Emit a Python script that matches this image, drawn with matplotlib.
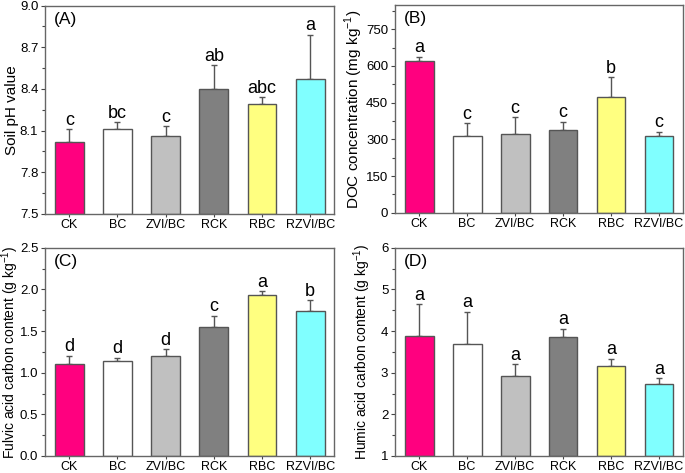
import numpy as np
import matplotlib.pyplot as plt
from matplotlib.ticker import MultipleLocator

plt.rcParams['font.family'] = ['Liberation Sans', 'DejaVu Sans']
plt.rcParams['mathtext.fontset'] = 'custom'
plt.rcParams['mathtext.rm'] = 'Liberation Sans'

groups = ['CK', 'BC', 'ZVI/BC', 'RCK', 'RBC', 'RZVI/BC']
colors = ['#ff007f', '#ffffff', '#c0c0c0', '#808080', '#ffff80', '#80ffff']

# (A) soil pH
ph_mean = [8.02, 8.11, 8.06, 8.40, 8.29, 8.47]
ph_err = [0.09, 0.05, 0.07, 0.17, 0.05, 0.32]
ph_sig = ['c', 'bc', 'c', 'ab', 'abc', 'a']

# (B) DOC
doc_mean = [622, 314, 322, 338, 475, 315]
doc_err = [16, 51, 68, 33, 79, 16]
doc_sig = ['a', 'c', 'c', 'c', 'b', 'c']

# (C) fulvic acid carbon
fa_mean = [1.10, 1.14, 1.20, 1.55, 1.93, 1.74]
fa_err = [0.10, 0.04, 0.08, 0.13, 0.05, 0.13]
fa_sig = ['d', 'd', 'd', 'c', 'a', 'b']

# (D) humic acid carbon
ha_mean = [3.88, 3.70, 2.93, 3.85, 3.15, 2.72]
ha_err = [0.76, 0.77, 0.27, 0.21, 0.18, 0.15]
ha_sig = ['a', 'a', 'a', 'a', 'a', 'a']

panels = [
    dict(mean=ph_mean, err=ph_err, sig=ph_sig, tag='(A)', ylabel='Soil pH value', lsize=11, lx=-0.09,
         ylim=(7.5, 9.0), major=0.3, minor=0.15, fmt='{:.1f}', pos=[0.066, 0.548, 0.422, 0.44]),
    dict(mean=doc_mean, err=doc_err, sig=doc_sig, tag='(B)', lsize=11, lx=-0.104,
         ylabel='DOC concentration (mg kg$^{\\mathrm{-1}}$)',
         ylim=(0, 850), major=150, minor=75, fmt='{:.0f}', pos=[0.577, 0.550, 0.420, 0.44]),
    dict(mean=fa_mean, err=fa_err, sig=fa_sig, tag='(C)', lsize=10, lx=-0.084,
         ylabel='Fulvic acid carbon content (g kg$^{\\mathrm{-1}}$)',
         ylim=(0, 2.5), major=0.5, minor=0.25, fmt='{:.1f}', pos=[0.066, 0.036, 0.422, 0.44]),
    dict(mean=ha_mean, err=ha_err, sig=ha_sig, tag='(D)', lsize=10, lx=-0.076,
         ylabel='Humic acid carbon content (g kg$^{\\mathrm{-1}}$)',
         ylim=(1, 6), major=1, minor=0.5, fmt='{:.0f}', pos=[0.577, 0.036, 0.420, 0.44]),
]

fig = plt.figure(figsize=(6.85, 4.73), dpi=100)
edge = '#555555'
x = np.arange(len(groups))

for p in panels:
    ax = fig.add_axes(p['pos'])
    lo = p['ylim'][0]
    heights = np.array(p['mean']) - lo
    ax.bar(x, heights, bottom=lo, width=0.6, color=colors, edgecolor=edge, linewidth=1.0, zorder=2)
    ax.errorbar(x, p['mean'], yerr=[np.zeros(6), p['err']], fmt='none', ecolor=edge,
                elinewidth=1.0, capsize=2.5, capthick=1.0, zorder=1)
    span = p['ylim'][1] - p['ylim'][0]
    for xi, m, e, s in zip(x, p['mean'], p['err'], p['sig']):
        ax.text(xi, m + e + span * 0.003, s, ha='center', va='bottom', fontsize=13)
    ax.set_xlim(-0.5, 5.5)
    ax.set_ylim(*p['ylim'])
    ax.set_xticks(x)
    ax.set_xticklabels(groups, fontsize=9)
    ax.yaxis.set_major_locator(MultipleLocator(p['major']))
    ax.yaxis.set_minor_locator(MultipleLocator(p['minor']))
    ax.yaxis.set_major_formatter(plt.FuncFormatter(lambda v, _, f=p['fmt']: f.format(v)))
    ax.tick_params(axis='y', labelsize=9.5, length=3, width=0.8, color='#444444', pad=2)
    ax.tick_params(axis='y', which='minor', length=2, width=0.8, color='#444444')
    ax.tick_params(axis='x', length=2.5, width=0.8, color='#444444', pad=1)
    ax.set_ylabel(p['ylabel'], fontsize=p['lsize'])
    ax.yaxis.set_label_coords(p['lx'], 0.5)
    for sp in ax.spines.values():
        sp.set_color('#666666')
        sp.set_linewidth(1.0)
    ax.text(0.03, 0.97, p['tag'], transform=ax.transAxes, ha='left', va='top', fontsize=12.5)

plt.savefig('out.png', dpi=100)
